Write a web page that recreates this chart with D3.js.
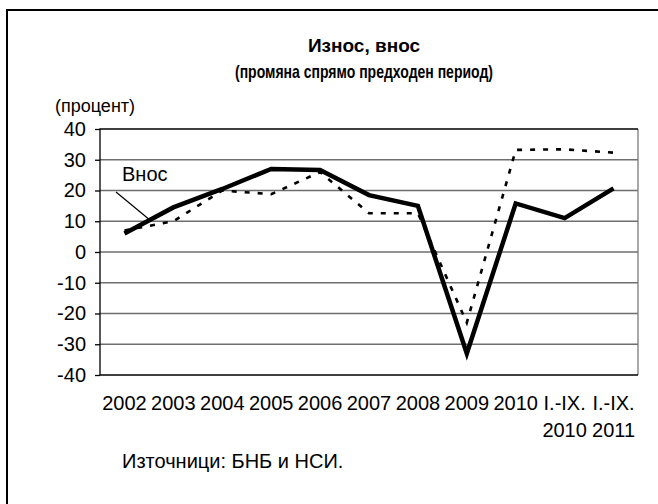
<!DOCTYPE html>
<html>
<head>
<meta charset="utf-8">
<script src="https://cdn.jsdelivr.net/npm/d3@7"></script>
<style>
  body { margin: 0; background: #fff; }
  svg { display: block; font-family: "Liberation Sans", Arial, sans-serif; }
</style>
</head>
<body>
<svg id="chart" width="658" height="504"></svg>
<script>
// data
const categories = ['2002', '2003', '2004', '2005', '2006', '2007', '2008', '2009', '2010', 'I.-IX.\n2010', 'I.-IX.\n2011']
const vnos  = [6, 14.5, 20.5, 27, 26.7, 18.5, 15, -33, 15.8, 11, 20.7]      // solid
const iznos = [7, 10, 20, 18.8, 26, 12.6, 12.6, -23, 33.2, 33.4, 32.3]     // dotted
const yTicks = [-40, -30, -20, -10, 0, 10, 20, 30, 40]

const PLOT = { left: 100, right: 638, top: 129, bottom: 375 }
const TITLE_X = 364

const svg = d3.select('#chart')

// outer frame (only top and left edges show)
svg.append('path')
  .attr('d', 'M7,504V10H658')
  .attr('fill', 'none').attr('stroke', '#000').attr('stroke-width', 2)

// titles
const title = svg.append('g')
  .attr('font-weight', 'bold').attr('font-size', 19).attr('text-anchor', 'middle')
title.append('text').attr('x', TITLE_X).attr('y', 52).text('Износ, внос')
title.append('text').attr('x', TITLE_X).attr('y', 78)
  .attr('textLength', 258).attr('lengthAdjust', 'spacingAndGlyphs')   // narrow face in the original
  .text('(промяна спрямо предходен период)')

svg.append('text')
  .attr('x', 55).attr('y', 112).attr('font-size', 18)
  .text('(процент)')

const x = d3.scaleBand().domain(categories).range([PLOT.left, PLOT.right])
const y = d3.scaleLinear().domain([-40, 40]).range([PLOT.bottom, PLOT.top])
const cx = (c) => x(c) + x.bandwidth() / 2

// gridlines
svg.append('g')
  .selectAll('line').data(yTicks.filter((d) => d > -40 && d < 40)).join('line')
  .attr('x1', PLOT.left).attr('x2', PLOT.right)
  .attr('y1', (d) => y(d)).attr('y2', (d) => y(d))
  .attr('stroke', '#6e6e6e').attr('stroke-width', 1.3)

// plot box
svg.append('path')
  .attr('d', `M${PLOT.right},${PLOT.top}V${PLOT.bottom}`)
  .attr('stroke', '#7a7a7a').attr('stroke-width', 1.3)
svg.append('path')
  .attr('d', `M${PLOT.right},${PLOT.top}H${PLOT.left}V${PLOT.bottom}H${PLOT.right}`)
  .attr('fill', 'none').attr('stroke', '#000').attr('stroke-width', 1.3)

// y axis
const yAxis = svg.append('g')
  .attr('transform', `translate(${PLOT.left},0)`)
  .call(d3.axisLeft(y).tickValues(yTicks).tickSize(5).tickPadding(9).tickFormat((d) => String(d)))
yAxis.select('.domain').remove()
yAxis.selectAll('line').attr('stroke', '#000').attr('stroke-width', 1.3)
yAxis.selectAll('text')
  .attr('font-family', '"Liberation Sans", Arial, sans-serif')
  .attr('font-size', 20).attr('fill', '#000')

// x labels
const xl = svg.append('g')
  .attr('font-size', 20).attr('text-anchor', 'middle')
  .selectAll('text').data(categories).join('text')
  .attr('x', (d) => cx(d)).attr('y', 410)
xl.selectAll('tspan').data((d) => d.split('\n')).join('tspan')
  .attr('x', function() { return cx(d3.select(this.parentNode).datum()) })
  .attr('dy', (d, i) => i ? 27 : 0)
  .text((d) => d)

// lines
const line = d3.line().x((d, i) => cx(categories[i])).y((d) => y(d))

svg.append('path')
  .attr('d', line(iznos))
  .attr('fill', 'none').attr('stroke', '#000').attr('stroke-width', 2.6)
  .attr('stroke-dasharray', '5,8')

svg.append('path')
  .attr('d', line(vnos))
  .attr('fill', 'none').attr('stroke', '#000').attr('stroke-width', 4.5)

// label with leader
svg.append('text')
  .attr('x', 122).attr('y', 181).attr('font-size', 20)
  .text('Внос')
const mid = 0.52
const lx = cx(categories[0]) + (cx(categories[1]) - cx(categories[0])) * mid
const ly = y(vnos[0] + (vnos[1] - vnos[0]) * mid)
svg.append('line')
  .attr('x1', 116).attr('y1', 192).attr('x2', lx).attr('y2', ly)
  .attr('stroke', '#000').attr('stroke-width', 1.2)

// source
svg.append('text')
  .attr('x', 122).attr('y', 468).attr('font-size', 20)
  .text('Източници: БНБ и НСИ.')
</script>
</body>
</html>
